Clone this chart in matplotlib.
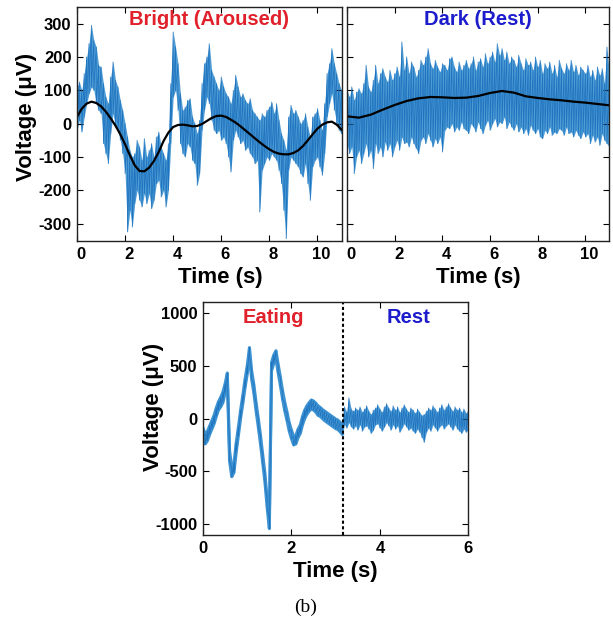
import numpy as np
import matplotlib
matplotlib.use("Agg")
import matplotlib.pyplot as plt
import matplotlib.transforms as mtransforms

plt.rcParams['font.family'] = ['Liberation Sans', 'DejaVu Sans']
plt.rcParams['font.weight'] = 'bold'
plt.rcParams['axes.unicode_minus'] = False

# ---------------- data ----------------
# Panel A: Bright (Aroused) - upper / lower envelope of the trace, every 0.1 s from 0 to 11 s
a_hi = [110, 125, 100, 150, 200, 240, 295, 250, 230, 175,
        170, 120, 80, 60, 140, 185, 130, 110, 70, 40,
        0, -40, -80, -100, -90, -50, -70, -110, -45, -100,
        -80, -60, -100, -40, -25, -70, -90, -110, -60, 120,
        275, 230, 180, 90, 40, 50, 70, 75, 20, 0,
        -30, 10, 120, 180, 200, 240, 160, 140, 120, 100,
        140, 110, 90, 80, 60, 100, 145, 110, 80, 90,
        70, 60, 75, 40, 30, 20, 10, 30, 20, 40,
        50, 65, 30, 60, 10, -30, -50, -80, 20, 55,
        30, 40, 20, 0, 10, 30, -10, -40, 20, 30,
        45, 10, -20, 60, 150, 180, 225, 180, 150, 120,
        100]
a_lo = [-20, 10, -25, 20, 60, 90, 110, 100, 60, 40,
        30, -60, -90, -120, -30, 30, -10, -20, -50, -90,
        -150, -325, -260, -310, -240, -200, -230, -250, -210, -240,
        -210, -255, -230, -180, -170, -220, -200, -250, -200, -60,
        80, 100, 40, -60, -90, -100, -60, -70, -110, -120,
        -185, -150, -20, 40, 80, 60, 10, -20, -30, -20,
        -50, -40, -60, -100, -145, -50, -20, -40, -60, -50,
        -80, -70, -90, -100, -120, -110, -265, -140, -120, -100,
        -110, -90, -100, -110, -140, -180, -260, -345, -140, -100,
        -110, -120, -130, -150, -160, -120, -180, -230, -130, -110,
        -100, -130, -155, -90, 20, 60, 90, 40, 0, -20,
        -30]
# smooth (black) curve of panel A, every 0.2 s
a_smooth = [20, 45, 60, 66, 62, 52, 36, 16, -6, -32,
            -62, -95, -125, -142, -143, -132, -112, -85, -52, -27,
            -10, -4, -3, -5, -8, -7, -1, 8, 17, 23,
            24, 20, 12, 3, -8, -20, -32, -44, -56, -67,
            -77, -85, -90, -92, -92, -88, -80, -67, -50, -32,
            -15, -3, 4, 6, -3, -18]

# Panel B: Dark (Rest) - envelope every 0.1 s
b_hi = [100, 80, 110, 70, 95, 105, 90, 120, 175, 110,
        95, 130, 175, 120, 150, 165, 140, 125, 160, 130,
        150, 170, 140, 245, 160, 200, 150, 185, 170, 140,
        160, 190, 175, 200, 225, 180, 165, 190, 170, 155,
        180, 175, 160, 195, 200, 170, 155, 185, 160, 175,
        190, 165, 180, 200, 160, 185, 195, 170, 210, 180,
        200, 215, 185, 240, 205, 225, 190, 215, 180, 200,
        190, 170, 205, 180, 160, 195, 175, 185, 160, 200,
        170, 190, 150, 180, 165, 185, 150, 175, 140, 190,
        165, 150, 180, 160, 190, 155, 175, 145, 170, 160,
        150, 175, 140, 160, 130, 170, 145, 165, 120, 230,
        150]
b_lo = [-60, -90, -70, -150, -100, -80, -120, -90, -60, -100,
        -80, -135, -60, -90, -70, -100, -55, -80, -60, -100,
        -70, -50, -80, -40, -60, -55, -70, -40, -60, -75,
        -90, -50, -40, -60, -30, -50, -70, -45, -60, -40,
        -85, -20, -10, -15, 0, -25, -10, -20, 5, -15,
        -20, -30, 0, -10, -25, 5, -15, -30, -5, 10,
        -20, 0, 15, -10, 5, 0, 20, -15, 5, -10,
        -20, 0, -25, -10, -30, -15, -35, -5, -20, -30,
        -15, -40, -45, -20, -30, -10, -35, -25, -30, -15,
        -20, -35, -10, -30, -25, -40, -20, -35, -45, -25,
        -40, -30, -60, -35, -55, -40, -65, -30, -50, -60,
        -70]
b_smooth = [22, 18, 27, 42, 56, 68, 76, 80, 79, 77, 78, 83,
            92, 98, 93, 82, 77, 73, 70, 66, 63, 59, 55]

# Panel C: Eating / Rest - envelope every 0.05 s from 0 to 6 s
c_hi = [-90, -150, -120, -70, -20, 30, 100, 160, 200, 250,
        330, 430, -300, -470, -420, -230, -80, 80, 220, 370,
        500, 670, 450, 320, 150, 0, -160, -340, -520, -760,
        -950, 530, 600, 640, 510, 390, 260, 150, 60, -40,
        -110, -170, -160, -100, -60, 20, 80, 120, 150, 175,
        165, 145, 120, 105, 85, 70, 55, 40, 25, 10,
        -5, -15, -35, -55,
        110, 60, 195, 90, 70, 100, 80, 110, 60, 90,
        120, 70, 40, 80, 100, 130, 90, 60, 110, 140,
        100, 70, 120, 80, 110, 60, 100, 130, 90, 60,
        100, 80, 50, 90, 60, 30, 40, 70, 100, 80,
        120, 90, 60, 100, 130, 80, 110, 140, 100, 70,
        110, 80, 100, 60, 90, 50, 80]
c_lo = [-170, -240, -210, -150, -100, -50, 20, 80, 110, 150,
        240, 360, -400, -550, -510, -320, -160, 0, 140, 290,
        420, 590, 370, 240, 70, -80, -240, -420, -600, -840,
        -1040, 450, 520, 560, 430, 310, 180, 70, -20, -120,
        -190, -250, -240, -180, -140, -60, 0, 40, 70, 90,
        80, 60, 30, 20, 0, -20, -35, -50, -65, -80,
        -95, -105, -125, -150,
        -60, -90, -40, -80, -100, -70, -110, -60, -120, -80,
        -70, -100, -140, -110, -60, -50, -90, -120, -80, -40,
        -70, -110, -60, -100, -70, -130, -90, -50, -80, -110,
        -90, -120, -140, -100, -130, -180, -225, -130, -90, -120,
        -60, -90, -120, -80, -60, -100, -70, -50, -80, -110,
        -60, -100, -120, -140, -100, -130, -100]

a_t = np.linspace(0, 11, len(a_hi))
a_ts = np.linspace(0, 11, len(a_smooth))
b_t = np.linspace(0, 11, len(b_hi))
b_ts = np.linspace(0, 11, len(b_smooth))
c_t = np.linspace(0, 6, len(c_hi))
c_split = 3.17

yticks_ab = [-300, -200, -100, 0, 100, 200, 300]
xticks_ab = [0, 2, 4, 6, 8, 10]
yticks_c = [-1000, -500, 0, 500, 1000]
xticks_c = [0, 2, 4, 6]

TRACE = '#1f74bf'
FILL = '#3d92d2'
RED = '#e0202a'
BLUE = '#1c1ccc'


def draw_trace(ax, t, hi, lo, edge_lw=0.0, edge_until=None):
    t = np.asarray(t, float)
    hi = np.asarray(hi, float)
    lo = np.asarray(lo, float)
    ax.fill_between(t, hi, lo, color=FILL, lw=0, alpha=0.9)
    if edge_lw > 0:
        m = t <= edge_until if edge_until is not None else np.ones_like(t, bool)
        ax.plot(t[m], hi[m], color=FILL, lw=edge_lw, solid_joinstyle='round')
        ax.plot(t[m], lo[m], color=FILL, lw=edge_lw, solid_joinstyle='round')
    tt = np.repeat(t, 2)
    vv = np.column_stack([hi, lo]).ravel()
    ax.plot(tt, vv, color=TRACE, lw=0.55)


def style(ax, shift_px=0):
    ax.tick_params(direction='in', top=True, right=True, length=4, width=0.8,
                   labelsize=12, pad=4)
    for s in ax.spines.values():
        s.set_linewidth(1.0)
        s.set_color('#222222')
    off = mtransforms.ScaledTranslation(shift_px / 100, 0, ax.figure.dpi_scale_trans)
    for lab in ax.get_xticklabels():
        lab.set_fontweight('bold')
        if shift_px:
            lab.set_transform(lab.get_transform() + off)
    for lab in ax.get_yticklabels():
        lab.set_fontweight('bold')


fig = plt.figure(figsize=(6.13, 6.17), dpi=100)

# Panel A
axA = fig.add_axes([0.1256, 0.6094, 0.4315, 0.3793])
draw_trace(axA, a_t, a_hi, a_lo)
axA.plot(a_ts, a_smooth, color='black', lw=1.6)
axA.set_xlim(0, 11)
axA.set_ylim(-352, 350)
axA.set_xticks(xticks_ab)
axA.set_yticks(yticks_ab)
axA.set_xlabel('Time (s)', fontsize=16, fontweight='bold')
axA.set_ylabel('Voltage (\u03bcV)', fontsize=16, fontweight='bold')
axA.xaxis.set_label_coords(0.54, -0.11)
axA.yaxis.set_label_coords(-0.15, 0.53)
axA.text(0.5, 0.925, 'Bright (Aroused)', transform=axA.transAxes, ha='center',
         va='baseline', color=RED, fontsize=14.5, fontweight='bold')
style(axA, shift_px=4)

# Panel B
axB = fig.add_axes([0.5661, 0.6094, 0.4279, 0.3793])
draw_trace(axB, b_t, b_hi, b_lo)
axB.plot(b_ts, b_smooth, color='black', lw=1.6)
axB.set_xlim(0, 11)
axB.set_ylim(-352, 350)
axB.set_xticks(xticks_ab)
axB.set_yticks(yticks_ab)
axB.set_yticklabels([])
axB.set_xlabel('Time (s)', fontsize=16, fontweight='bold')
axB.xaxis.set_label_coords(0.5, -0.11)
axB.text(0.5, 0.925, 'Dark (Rest)', transform=axB.transAxes, ha='center',
         va='baseline', color=BLUE, fontsize=14.5, fontweight='bold')
style(axB, shift_px=4)

# Panel C
axC = fig.add_axes([0.3312, 0.1329, 0.4328, 0.3776])
draw_trace(axC, c_t, c_hi, c_lo, edge_lw=2.2, edge_until=3.16)
axC.axvline(c_split, color='black', lw=1.5, ls=(0, (1.5, 1.2)))
axC.set_xlim(0, 6)
axC.set_ylim(-1100, 1100)
axC.set_xticks(xticks_c)
axC.set_yticks(yticks_c)
axC.set_xlabel('Time (s)', fontsize=16, fontweight='bold')
axC.set_ylabel('Voltage (\u03bcV)', fontsize=16, fontweight='bold')
axC.xaxis.set_label_coords(0.5, -0.11)
axC.yaxis.set_label_coords(-0.147, 0.55)
axC.text(1.58, 0.91, 'Eating', transform=axC.get_xaxis_transform(), ha='center',
         va='baseline', color=RED, fontsize=14.5, fontweight='bold')
axC.text(4.64, 0.91, 'Rest', transform=axC.get_xaxis_transform(), ha='center',
         va='baseline', color=BLUE, fontsize=14.5, fontweight='bold')
style(axC)

fig.text(306 / 613, 0.009, '(b)', ha='center', va='baseline',
         family=['Liberation Serif', 'DejaVu Serif'], fontweight='normal', fontsize=14)

fig.savefig('out.png', dpi=100)
